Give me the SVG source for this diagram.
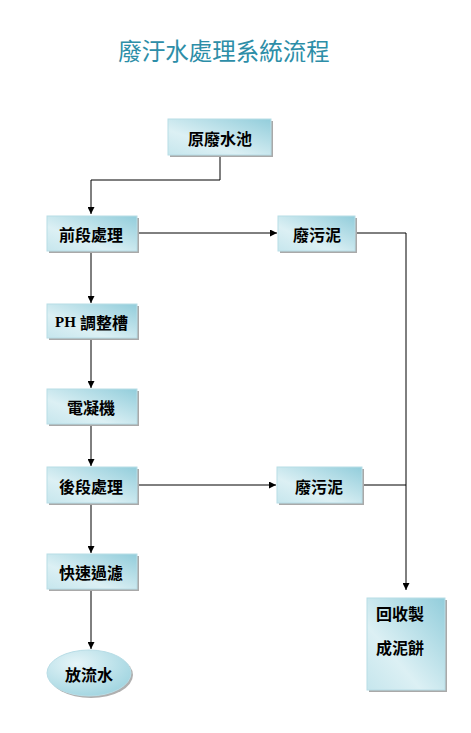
<svg xmlns="http://www.w3.org/2000/svg" width="471" height="733" viewBox="0 0 471 733">
<defs>
<linearGradient id="g" x1="1" y1="0" x2="0" y2="1">
<stop offset="0" stop-color="#92cddb"/>
<stop offset="0.65" stop-color="#dcf0f4"/>
<stop offset="1" stop-color="#c6e6ed"/>
</linearGradient>
<radialGradient id="ge" cx="0.35" cy="0.3" r="0.8">
<stop offset="0" stop-color="#e6f5f8"/>
<stop offset="1" stop-color="#9dd3df"/>
</radialGradient>
<marker id="a" viewBox="0 0 10 10" refX="10" refY="5" markerWidth="7" markerHeight="7" orient="auto" markerUnits="userSpaceOnUse">
<path d="M0,0 L10,5 L0,10 z" fill="#000"/>
</marker>
</defs>
<style>
.b{fill:url(#g);stroke:#b8dde6;stroke-width:1}
.s{fill:#a9a9a9}
.t{font-family:"Noto Sans CJK TC","Noto Sans CJK SC",sans-serif;font-size:16px;font-weight:bold;fill:#000;text-anchor:middle;dominant-baseline:central}
.c{fill:none;stroke:#000;stroke-width:1}
</style>
<rect width="471" height="733" fill="#fff"/>
<text x="224" y="50" font-family="&quot;Noto Sans CJK TC&quot;,&quot;Noto Sans CJK SC&quot;,sans-serif" font-size="23.5" fill="#2d8ea8" text-anchor="middle" dominant-baseline="central">廢汙水處理系統流程</text>
<g id="connectors">
<path class="c" d="M220,155 V180 H91 V214" marker-end="url(#a)"/>
<path class="c" d="M137,233 H277" marker-end="url(#a)"/>
<path class="c" d="M91,251 V303" marker-end="url(#a)"/>
<path class="c" d="M91,339 V388" marker-end="url(#a)"/>
<path class="c" d="M91,424 V466" marker-end="url(#a)"/>
<path class="c" d="M137,485 H276" marker-end="url(#a)"/>
<path class="c" d="M91,503 V553" marker-end="url(#a)"/>
<path class="c" d="M91,590 V649" marker-end="url(#a)"/>
<path class="c" d="M355,233 H406 V590" marker-end="url(#a)"/>
<path class="c" d="M362,485 H406"/>
</g>
<g id="n1"><rect class="s" x="170" y="121" width="103" height="36"/><rect class="b" x="168" y="119" width="103" height="36"/><text class="t" x="220" y="138">原廢水池</text></g>
<g id="n2"><rect class="s" x="49" y="218" width="90" height="35"/><rect class="b" x="47" y="216" width="90" height="35"/><text class="t" x="91" y="234">前段處理</text></g>
<g id="n3"><rect class="s" x="280" y="218" width="77" height="35"/><rect class="b" x="278" y="216" width="77" height="35"/><text class="t" x="317" y="234">廢污泥</text></g>
<g id="n4"><rect class="s" x="49" y="306" width="90" height="34"/><rect class="b" x="47" y="304" width="90" height="34"/><text class="t" x="55" y="322" style="text-anchor:start"><tspan font-family="&quot;Liberation Serif&quot;,serif" font-size="15">PH</tspan><tspan x="80">調整槽</tspan></text></g>
<g id="n5"><rect class="s" x="49" y="391" width="90" height="35"/><rect class="b" x="47" y="389" width="90" height="35"/><text class="t" x="91" y="407">電凝機</text></g>
<g id="n6"><rect class="s" x="49" y="469" width="90" height="36"/><rect class="b" x="47" y="467" width="90" height="36"/><text class="t" x="91" y="486">後段處理</text></g>
<g id="n7"><rect class="s" x="279" y="469" width="85" height="36"/><rect class="b" x="277" y="467" width="85" height="36"/><text class="t" x="319" y="486">廢污泥</text></g>
<g id="n8"><rect class="s" x="49" y="556" width="90" height="35"/><rect class="b" x="47" y="554" width="90" height="35"/><text class="t" x="91" y="572">快速過濾</text></g>
<g id="n9"><ellipse cx="91" cy="675" rx="42" ry="23" fill="#b0b0b0"/><ellipse cx="89" cy="673" rx="42" ry="23" fill="url(#ge)" stroke="#b8dde6"/><text class="t" x="89" y="674">放流水</text></g>
<g id="n10"><rect class="s" x="369" y="600" width="78" height="92"/><rect class="b" x="367" y="598" width="78" height="92"/><text class="t" x="376" y="613" style="text-anchor:start">回收製</text><text class="t" x="376" y="647" style="text-anchor:start">成泥餅</text></g>
</svg>
